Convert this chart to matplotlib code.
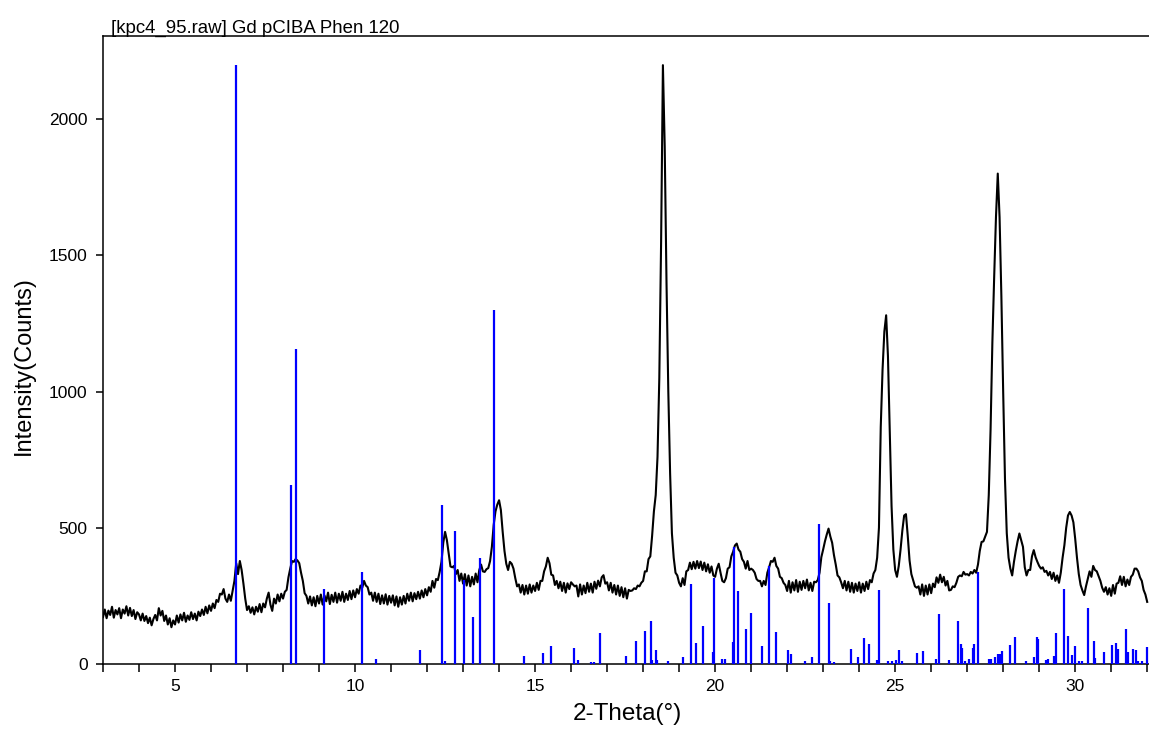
import numpy as np
import matplotlib
matplotlib.use("Agg")
import matplotlib.pyplot as plt
from matplotlib.ticker import MultipleLocator, FuncFormatter

plt.rcParams["font.family"] = ["Liberation Sans", "DejaVu Sans"]

# --- 1. measured pattern, 0.05 deg steps from 3.00 to 32.00 ---
theta_start = 3.0
theta_step = 0.05
counts = [
    172, 200, 168, 196, 180, 210, 170, 198, 182, 205, 168, 200, 185, 212, 178, 206, 176, 198, 165, 190,  # 3
    182, 160, 185, 158, 176, 150, 170, 142, 165, 180, 160, 205, 178, 195, 158, 178, 145, 168, 135, 160,  # 4
    145, 178, 152, 182, 160, 188, 155, 178, 162, 190, 165, 185, 160, 192, 176, 200, 180, 210, 186, 215,  # 5
    195, 222, 205, 235, 228, 258, 255, 275, 240, 228, 255, 232, 268, 305, 370, 330, 378, 345, 295, 240,  # 6
    198, 212, 188, 208, 182, 210, 192, 220, 190, 222, 208, 240, 262, 218, 195, 240, 222, 255, 230, 258,  # 7
    240, 265, 272, 318, 350, 378, 375, 385, 380, 370, 335, 305, 260, 250, 222, 248, 215, 245, 212, 250,  # 8
    222, 255, 218, 252, 230, 262, 220, 254, 228, 262, 225, 258, 232, 265, 228, 258, 235, 268, 238, 270,  # 9
    245, 275, 258, 288, 280, 305, 288, 282, 255, 262, 232, 262, 228, 258, 220, 252, 222, 256, 218, 250,  # 10
    225, 252, 215, 248, 210, 245, 218, 250, 222, 258, 232, 262, 230, 260, 238, 265, 240, 270, 245, 275,  # 11
    252, 282, 265, 305, 280, 312, 308, 338, 375, 445, 485, 455, 405, 358, 355, 360, 330, 345, 305, 332,  # 12
    295, 330, 288, 325, 285, 320, 292, 332, 300, 345, 365, 340, 338, 348, 352, 378, 430, 510, 560, 585,  # 13
    601, 565, 485, 415, 368, 345, 375, 368, 350, 315, 285, 292, 262, 290, 255, 288, 258, 292, 262, 288,  # 14
    268, 298, 272, 305, 305, 340, 358, 390, 370, 328, 325, 290, 305, 278, 302, 268, 298, 262, 296, 275,  # 15
    300, 292, 285, 288, 248, 292, 255, 288, 260, 298, 265, 295, 262, 302, 276, 306, 285, 318, 326, 295,  # 16
    300, 270, 298, 262, 290, 255, 288, 250, 282, 245, 278, 240, 272, 268, 270, 278, 275, 288, 285, 298,  # 17
    305, 340, 340, 385, 395, 470, 560, 620, 760, 1050, 1550, 2198, 1900, 1400, 1000, 700, 480, 390, 335, 325,  # 18
    298, 285, 315, 290, 340, 345, 372, 348, 375, 350, 378, 352, 376, 345, 372, 340, 366, 335, 358, 325,  # 19
    320, 350, 368, 335, 305, 300, 315, 350, 355, 395, 412, 435, 442, 420, 412, 385, 375, 350, 378, 345,  # 20
    350, 345, 335, 312, 305, 305, 285, 305, 290, 335, 355, 378, 375, 390, 360, 350, 320, 315, 298, 290,  # 21
    268, 305, 262, 300, 270, 308, 265, 302, 272, 305, 278, 310, 270, 298, 268, 302, 300, 308, 335, 392,  # 22
    420, 450, 475, 497, 468, 445, 400, 365, 325, 318, 300, 278, 305, 270, 302, 265, 298, 262, 295, 268,  # 23
    300, 262, 295, 268, 302, 275, 308, 300, 332, 345, 390, 500, 870, 1080, 1220, 1280, 1130, 850, 580, 420,  # 24
    345, 320, 360, 420, 490, 545, 550, 470, 380, 330, 308, 285, 280, 285, 255, 292, 250, 288, 255, 292,  # 25
    260, 295, 282, 318, 298, 328, 300, 320, 288, 305, 270, 272, 285, 282, 298, 320, 325, 322, 338, 328,  # 26
    330, 325, 338, 332, 345, 335, 365, 415, 448, 450, 468, 485, 620, 860, 1180, 1420, 1640, 1800, 1640, 1350,  # 27
    1000, 680, 480, 390, 350, 325, 375, 415, 450, 479, 455, 430, 355, 325, 345, 345, 395, 418, 392, 375,  # 28
    360, 350, 355, 338, 342, 325, 338, 312, 335, 305, 325, 298, 335, 390, 436, 500, 545, 558, 545, 520,  # 29
    460, 390, 330, 290, 270, 253, 285, 312, 340, 320, 360, 345, 340, 322, 305, 280, 265, 282, 255, 278,  # 30
    250, 290, 258, 295, 298, 322, 290, 320, 285, 310, 290, 320, 328, 350, 350, 340, 318, 305, 272, 255,  # 31
    228,
]
two_theta = theta_start + theta_step * np.arange(len(counts))

# --- 2. reference pattern sticks ---
ref_pos = [6.69, 8.22, 8.37, 9.15, 10.19, 10.57, 11.79, 12.41, 12.50, 12.78,
           13.02, 13.27, 13.46, 13.87, 14.70, 15.23, 15.43, 16.07, 16.18, 16.55,
           16.64, 16.81, 17.53, 17.81, 18.06, 18.22, 18.24, 18.37, 18.39, 18.69,
           19.12, 19.32, 19.47, 19.66, 19.95, 19.98, 20.18, 20.27, 20.50, 20.52,
           20.63, 20.85, 21.00, 21.29, 21.51, 21.69, 22.02, 22.12, 22.51, 22.69,
           22.89, 23.15, 23.20, 23.30, 23.76, 23.96, 24.14, 24.26, 24.49, 24.55,
           24.80, 24.92, 25.02, 25.12, 25.20, 25.60, 25.77, 26.14, 26.23, 26.49,
           26.75, 26.82, 26.86, 26.95, 27.04, 27.15, 27.20, 27.29, 27.60, 27.67,
           27.76, 27.85, 27.90, 27.97, 28.20, 28.34, 28.64, 28.87, 28.94, 28.98,
           29.19, 29.25, 29.40, 29.47, 29.68, 29.81, 29.90, 30.00, 30.10, 30.20,
           30.36, 30.53, 30.56, 30.79, 31.01, 31.14, 31.20, 31.41, 31.46, 31.60,
           31.69, 31.75, 31.85, 32.00]
ref_int = [2200, 656, 1155, 274, 338, 19, 52, 583, 10, 489,
           308, 174, 390, 1300, 30, 41, 67, 58, 15, 8,
           8, 113, 28, 85, 122, 157, 15, 51, 15, 10,
           25, 292, 78, 141, 45, 316, 20, 20, 80, 430,
           267, 130, 187, 67, 359, 116, 51, 35, 12, 25,
           515, 225, 12, 8, 54, 25, 94, 73, 15, 270,
           10, 12, 15, 51, 10, 41, 47, 20, 185, 15,
           157, 74, 60, 10, 20, 60, 73, 338, 20, 20,
           25, 35, 38, 48, 69, 98, 12, 25, 98, 90,
           15, 20, 30, 112, 277, 103, 33, 66, 10, 10,
           207, 85, 23, 45, 69, 78, 56, 127, 45, 56,
           51, 12, 12, 63]

y_ticks = [0, 500, 1000, 1500, 2000]
title_text = "[kpc4_95.raw] Gd pCIBA Phen 120"

# --- 3. figure ---
W, H = 1149, 729
fig = plt.figure(figsize=(W / 100, H / 100), dpi=100)
ax = fig.add_axes([103 / W, 1 - 664 / H, 1 - 103 / W, (664 - 36) / H])

ax.plot(two_theta, counts, color="black", lw=1.5, zorder=2)
ax.vlines(ref_pos, 0, ref_int, color="#0000ff", lw=1.6, zorder=3)

ax.set_xlim(3, 32.05)
ax.set_ylim(0, 2305)

ax.xaxis.set_major_locator(MultipleLocator(1))
ax.xaxis.set_major_formatter(FuncFormatter(lambda v, p: f"{int(round(v))}" if round(v) % 5 == 0 else ""))
ax.set_yticks(y_ticks)

for s in ["left", "bottom", "top"]:
    ax.spines[s].set_linewidth(1.1)
ax.spines["right"].set_visible(False)

ax.tick_params(axis="x", direction="out", length=5.5, width=1.1, pad=5, labelsize=12.5)
ax.tick_params(axis="y", direction="out", length=5, width=1.1, pad=6, labelsize=12.5)

# --- 4. text ---
fig.text(111 / W, 1 - 33 / H, title_text, fontsize=13.4, ha="left", va="baseline")
fig.text(24 / W, 1 - 366 / H, "Intensity(Counts)", fontsize=17, rotation=90, ha="center", va="center")
fig.text(627 / W, 1 - 714 / H, "2-Theta(°)", fontsize=17.5, ha="center", va="center")

fig.savefig("out.png", dpi=100)
